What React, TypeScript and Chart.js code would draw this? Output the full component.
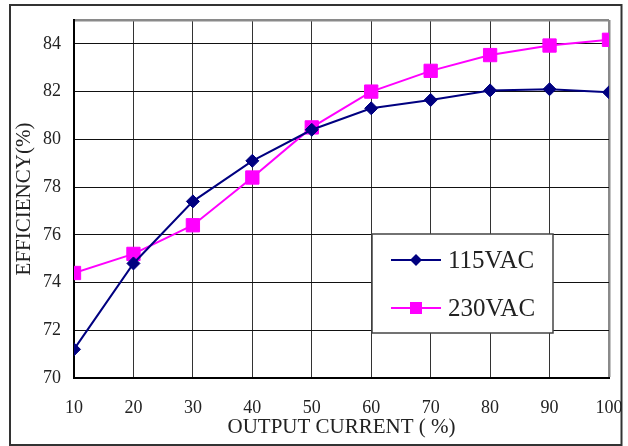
import React, { useEffect, useRef } from 'react';
import { Chart, registerables } from 'chart.js';

Chart.register(...registerables);

// ---- data ----
const outputCurrent = [10, 20, 30, 40, 50, 60, 70, 80, 90, 100];
const eff115 = [71.2, 74.8, 77.4, 79.1, 80.4, 81.3, 81.65, 82.05, 82.1, 81.97];
const eff230 = [74.4, 75.2, 76.4, 78.4, 80.5, 82.0, 82.87, 83.53, 83.93, 84.17];
const seriesLabels = ['115VAC', '230VAC'];
const yTickValues = [70, 72, 74, 76, 78, 80, 82, 84];
const yMin = 70;
const yMax = 85;
const xMin = 10;
const xMax = 100;
const xTitle = 'OUTPUT CURRENT ( %)';
const yTitle = 'EFFICIENCY(%)';

const FONT = '"Liberation Serif", "Times New Roman", serif';
const TEXT = '#222';

const framePlugin = {
  id: 'frame',
  beforeDraw(chart: any) {
    const ctx = chart.ctx;
    ctx.save();
    ctx.fillStyle = '#fff';
    ctx.fillRect(0, 0, chart.width, chart.height);
    ctx.strokeStyle = '#333';
    ctx.lineWidth = 2;
    ctx.strokeRect(10, 5, 611.5, 440);
    ctx.restore();
  },
};

const boxLegendPlugin = {
  id: 'boxLegend',
  afterDraw(chart: any) {
    const ctx = chart.ctx;
    ctx.save();
    const x0 = 372, y0 = 234, w = 181, h = 99;
    ctx.fillStyle = '#fff';
    ctx.fillRect(x0, y0, w, h);
    ctx.strokeStyle = '#444';
    ctx.lineWidth = 1.5;
    ctx.strokeRect(x0, y0, w, h);
    chart.data.datasets.forEach((ds: any, i: number) => {
      const cy = 260 + i * 48;
      ctx.strokeStyle = ds.borderColor;
      ctx.lineWidth = 2;
      ctx.beginPath();
      ctx.moveTo(391, cy);
      ctx.lineTo(441, cy);
      ctx.stroke();
      ctx.fillStyle = ds.backgroundColor;
      const cx = 416;
      ctx.beginPath();
      if (ds.pointStyle === 'rectRot') {
        const r = 6;
        ctx.moveTo(cx, cy - r);
        ctx.lineTo(cx + r, cy);
        ctx.lineTo(cx, cy + r);
        ctx.lineTo(cx - r, cy);
        ctx.closePath();
      } else {
        const s = 6;
        ctx.rect(cx - s, cy - s, 2 * s, 2 * s);
      }
      ctx.fill();
      ctx.fillStyle = TEXT;
      ctx.font = `25px ${FONT}`;
      ctx.textAlign = 'left';
      ctx.textBaseline = 'middle';
      ctx.fillText(ds.label, 448, cy + 1);
    });
    ctx.restore();
  },
};

export default function App() {
  const ref = useRef<HTMLCanvasElement | null>(null);

  useEffect(() => {
    if (!ref.current) return;
    const chart = new Chart(ref.current, {
      type: 'line',
      data: {
        datasets: [
          {
            label: seriesLabels[0],
            data: outputCurrent.map((x, i) => ({ x, y: eff115[i] })),
            borderColor: '#000080',
            backgroundColor: '#000080',
            borderWidth: 2,
            pointStyle: 'rectRot',
            pointRadius: 6.5,
            pointBorderWidth: 1,
            tension: 0,
          },
          {
            label: seriesLabels[1],
            data: outputCurrent.map((x, i) => ({ x, y: eff230[i] })),
            borderColor: '#FF00FF',
            backgroundColor: '#FF00FF',
            borderWidth: 2,
            pointStyle: 'rect',
            pointRadius: 9.4,
            pointBorderWidth: 1,
            tension: 0,
          },
        ] as any,
      },
      options: {
        responsive: false,
        animation: false,
        devicePixelRatio: 1,
        layout: { padding: { left: 0, top: 20, right: 19, bottom: 0 } },
        plugins: {
          legend: { display: false },
          tooltip: { enabled: false },
        },
        scales: {
          x: {
            type: 'linear',
            min: xMin,
            max: xMax,
            ticks: {
              stepSize: 10,
              color: TEXT,
              font: { family: FONT, size: 18 },
              padding: 19,
              maxRotation: 0,
            },
            grid: {
              drawTicks: false,
              color: (c: any) => (c.tick && c.tick.value === xMax ? '#8a8a8a' : '#333'),
              lineWidth: (c: any) => (c.tick && c.tick.value === xMax ? 2.5 : 1),
            },
            border: { display: true, color: '#000', width: 2 },
            title: {
              display: true,
              text: xTitle,
              color: TEXT,
              font: { family: FONT, size: 21 },
              padding: { top: 0, bottom: 6 },
            },
            afterFit: (scale: any) => {
              scale.height = 446 - 378;
              scale.paddingLeft = 0;
              scale.paddingRight = 0;
            },
          },
          y: {
            type: 'linear',
            min: yMin,
            max: yMax,
            afterBuildTicks: (scale: any) => {
              scale.ticks = [...yTickValues, yMax].map((v) => ({ value: v }));
            },
            ticks: {
              color: TEXT,
              font: { family: FONT, size: 18 },
              padding: 13,
              callback: (v: any) => (yTickValues.includes(Number(v)) ? String(v) : ''),
            },
            grid: {
              drawTicks: false,
              color: (c: any) => (c.tick && c.tick.value === yMax ? '#8a8a8a' : '#111'),
              lineWidth: (c: any) => (c.tick && c.tick.value === yMax ? 2.5 : 1),
            },
            border: { display: true, color: '#000', width: 2 },
            title: {
              display: true,
              text: yTitle,
              color: TEXT,
              font: { family: FONT, size: 21 },
              padding: { top: 12, bottom: 0 },
            },
            afterFit: (scale: any) => {
              scale.width = 74;
              scale.paddingTop = 0;
              scale.paddingBottom = 0;
            },
          },
        },
      },
      plugins: [framePlugin, boxLegendPlugin],
    } as any);
    return () => chart.destroy();
  }, []);

  return (
    <div style={{ position: 'fixed', left: 0, top: 0, width: 628, height: 446, background: '#fff' }}>
      <canvas ref={ref} width={628} height={446} style={{ width: 628, height: 446, display: 'block' }} />
    </div>
  );
}
